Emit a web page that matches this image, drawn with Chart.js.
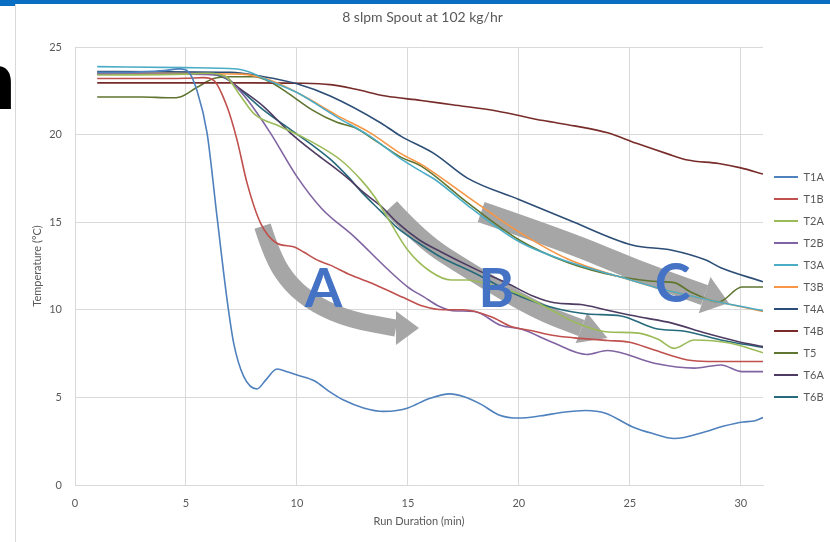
<!DOCTYPE html>
<html><head><meta charset="utf-8">
<script src="https://cdn.jsdelivr.net/npm/chart.js@4.4.1/dist/chart.umd.min.js"></script>
<style>
html,body{margin:0;padding:0;background:#fff;}
#wrap{position:relative;width:830px;height:542px;overflow:hidden;background:#fff;}
canvas{position:absolute;left:0;top:0;}
#topbar{position:absolute;left:0;top:0;width:830px;height:4px;background:#0a6fc2;}
#topbar2{position:absolute;left:0;top:0;width:15px;height:6px;background:#0a6fc2;}
#frame{position:absolute;left:15px;top:4px;width:1px;height:538px;background:#d9d9d9;}
#glyph{position:absolute;left:-33px;top:42px;font:bold 80px "Liberation Sans",Arial,sans-serif;color:#000;line-height:80px;}
</style></head>
<body>
<div id="wrap">
<canvas id="c" width="830" height="542"></canvas>
<div id="topbar"></div><div id="topbar2"></div><div id="frame"></div>
<div id="glyph">n</div>
</div>
<script>
// ---- data ----
const seriesNames = ['T1A','T1B','T2A','T2B','T3A','T3B','T4A','T4B','T5','T6A','T6B'];
const xTickLabels = [0,5,10,15,20,25,30];
const yTickLabels = [0,5,10,15,20,25];

const T1A_x = [1,2,3,4,4.7,5.1,5.5,5.95,6.4,6.85,7.15,7.6,8.2,8.6,9.1,9.6,10,10.8,11.5,12.1,13,13.9,14.5,15,16,16.9,17.5,18.3,19.1,20,21,22,23,23.9,25.1,26,27,28.4,29.2,30.1,30.6,31];
const T1A_y = [23.55,23.55,23.58,23.65,23.75,23.6,22.5,20.1,15.3,10.6,8.1,6.2,5.48,6.0,6.62,6.45,6.28,5.94,5.3,4.85,4.4,4.2,4.25,4.4,4.95,5.2,5.05,4.6,4.0,3.82,3.95,4.15,4.25,4.1,3.33,2.95,2.65,3.04,3.35,3.6,3.65,3.85];

const T1B_x = [1,3,5,5.8,6.25,6.85,7.3,7.76,8.36,9.1,9.85,10.3,10.9,11.5,12.4,13.5,14.8,15.7,16.6,17.5,18.75,19.65,20.6,21.5,22.5,24,25,26.1,27.6,28.5,30,31];
const T1B_y = [23.2,23.2,23.22,23.25,23.1,21.6,19.7,17.2,14.95,13.8,13.6,13.3,12.85,12.55,12.0,11.45,10.7,10.2,10.0,10.0,9.6,9.05,8.8,8.55,8.4,8.25,8.15,7.7,7.13,7.05,7.05,7.05];

const T2A_x = [1,5,6,6.8,7.46,8.06,9.26,10.2,11.07,11.97,12.9,13.5,14.2,15,16,16.95,17.7,18.5,19.3,20.1,21.6,22.5,23.9,25.4,26.3,27,27.9,29.5,31];
const T2A_y = [23.4,23.45,23.5,23.3,22.2,21.2,20.45,19.9,19.3,18.55,17.4,16.45,15.0,13.4,12.2,11.7,11.7,11.5,11.2,10.85,9.9,9.3,8.75,8.67,8.3,7.8,8.28,8.1,7.55];

const T2B_x = [1,5,6.5,7.2,7.76,8.8,10,11.1,12.6,14.1,15,15.7,16.4,17,18,19.2,20.1,21.5,23.05,24,26.1,27.9,29.1,30.05,31];
const T2B_y = [23.45,23.45,23.4,22.8,22.0,20.1,17.6,15.8,14.15,12.3,11.3,10.75,10.2,9.95,9.9,9.1,8.9,8.15,7.45,7.68,6.95,6.67,6.85,6.47,6.47];

const T3A_x = [1,5,7.3,8,8.5,10,11.8,13.3,14.7,15.6,16.2,17.7,20,22.2,24.5,26.7,29,31];
const T3A_y = [23.88,23.82,23.74,23.5,23.2,22.4,21.0,19.9,18.6,17.9,17.45,15.95,13.9,12.75,11.9,11.1,10.45,9.95];

const T3B_x = [1,7.5,8.8,10.3,11.8,13.3,14.7,15.6,16.2,17.7,20,22.2,24.5,26.7,29,31];
const T3B_y = [23.5,23.45,23.1,22.2,21.1,20.1,18.9,18.3,17.8,16.45,14.45,12.9,11.9,11.1,10.45,9.9];

const T4A_x = [1,7,8.5,10,11.5,13.8,14.7,16.2,17.7,20,22.3,25.1,26.9,28.4,29.1,31];
const T4A_y = [23.6,23.55,23.3,22.9,22.2,20.65,19.9,18.9,17.5,16.3,15.1,13.7,13.4,12.85,12.4,11.6];

const T4B_x = [1,5,8,10.3,11.5,12.6,14,15.6,17,19,21.1,22.5,24,25.3,26.7,27.6,29,30,31];
const T4B_y = [22.95,22.95,22.95,22.93,22.85,22.6,22.2,21.95,21.7,21.35,20.8,20.5,20.1,19.5,18.9,18.55,18.35,18.1,17.75];

const T5_x = [1,3,4.3,4.74,5.5,6.25,7,8.05,8.8,9.56,10.7,11.8,12.6,13.6,14.7,15.6,17.7,20,22.2,24.5,26.4,27,27.7,29,30.05,31];
const T5_y = [22.15,22.15,22.1,22.15,22.7,23.2,23.3,23.3,23.0,22.4,21.4,20.7,20.4,19.6,18.7,18.2,16.1,14.0,12.7,11.9,11.6,11.55,11.05,10.45,11.3,11.3];

const T6A_x = [1,6,6.8,7.15,8.5,9.7,10.76,11.5,12.3,13,13.8,14.5,15.5,16.5,18,19.5,20.6,21.6,22.8,23.9,25.4,26.9,28.4,29.9,31];
const T6A_y = [23.5,23.5,23.3,22.9,21.6,20.1,19.0,18.3,17.5,16.7,15.9,15.0,14.0,13.3,12.35,11.5,10.8,10.4,10.3,10.0,9.6,9.24,8.67,8.18,7.9];

const T6B_x = [1,6,6.8,7.5,8.5,9.7,10.8,11.5,12.3,13,13.8,14.5,15.5,16.5,18,19.5,20.1,21.6,23.1,24.6,26.1,27.6,29.1,31];
const T6B_y = [23.45,23.45,23.2,22.5,21.4,20.3,19.3,18.6,17.6,16.6,15.6,14.7,13.8,13.0,12.1,11.1,10.75,10.1,9.76,9.65,8.95,8.75,8.28,7.85];

const seriesX = [T1A_x,T1B_x,T2A_x,T2B_x,T3A_x,T3B_x,T4A_x,T4B_x,T5_x,T6A_x,T6B_x];
const seriesY = [T1A_y,T1B_y,T2A_y,T2B_y,T3A_y,T3B_y,T4A_y,T4B_y,T5_y,T6A_y,T6B_y];

// ---- styles ----
const colors = ['#4F81BD','#C0504D','#9BBB59','#8064A2','#4BACC6','#F79646','#2C4D75','#772C2A','#5F7530','#4D3B62','#276A7C'];
const textColor = '#595959';
const gridColor = '#D9D9D9';
const FONT = 'Lato, "Open Sans", sans-serif';

const datasets = seriesNames.map((name, i) => ({
  label: name,
  data: seriesX[i].map((x, j) => ({x: x, y: seriesY[i][j]})),
  borderColor: colors[i],
  backgroundColor: colors[i],
  borderWidth: 1.6,
  pointRadius: 0,
  fill: false,
  cubicInterpolationMode: 'monotone'
}));

// ---- annotation overlay (arrows & letters, in data units) ----
const overlay = {
  arrowColor: '#A6A6A6',
  letterColor: '#4472C4',
  arrows: [
    {pts: [[8.45,14.78],[8.9,13.0],[9.71,11.42],[10.84,10.27],[12.42,9.42],[14.46,8.96]], tip: [15.5,8.96], w: 17, hw: 34},
    {pts: [[14.23,15.87],[15.59,13.98],[17.71,12.27],[20.69,9.99],[22.82,8.96]], tip: [23.99,8.39], w: 17, hw: 32},
    {pts: [[18.3,15.58],[22.23,13.87],[25.21,12.27],[28.37,10.84]], tip: [29.46,10.39], w: 21, hw: 38}
  ],
  letters: [
    {t: 'A', x: 11.2, y: 11.13},
    {t: 'B', x: 18.98, y: 11.13},
    {t: 'C', x: 26.93, y: 11.42}
  ]
};

const overlayPlugin = {
  id: 'overlay',
  beforeDatasetsDraw(chart) {
    const ctx = chart.ctx, sx = chart.scales.x, sy = chart.scales.y;
    const P = p => [sx.getPixelForValue(p[0]), sy.getPixelForValue(p[1])];
    ctx.save();
    ctx.strokeStyle = overlay.arrowColor;
    ctx.fillStyle = overlay.arrowColor;
    overlay.arrows.forEach(a => {
      const pts = a.pts.map(P);
      ctx.lineWidth = a.w;
      ctx.lineCap = 'butt';
      ctx.lineJoin = 'round';
      ctx.beginPath();
      ctx.moveTo(pts[0][0], pts[0][1]);
      for (let i = 1; i < pts.length - 1; i++) {
        const mx = (pts[i][0] + pts[i+1][0]) / 2, my = (pts[i][1] + pts[i+1][1]) / 2;
        ctx.quadraticCurveTo(pts[i][0], pts[i][1], mx, my);
      }
      const L = pts[pts.length - 1];
      ctx.lineTo(L[0], L[1]);
      ctx.stroke();
      const T = P(a.tip);
      const dx = T[0] - L[0], dy = T[1] - L[1], len = Math.hypot(dx, dy);
      const nx = -dy / len, ny = dx / len, h = a.hw / 2;
      ctx.beginPath();
      ctx.moveTo(L[0] + nx * h, L[1] + ny * h);
      ctx.lineTo(T[0], T[1]);
      ctx.lineTo(L[0] - nx * h, L[1] - ny * h);
      ctx.closePath();
      ctx.fill();
    });
    ctx.restore();
  },
  afterDatasetsDraw(chart) {
    const ctx = chart.ctx, sx = chart.scales.x, sy = chart.scales.y;
    ctx.save();
    ctx.fillStyle = overlay.letterColor;
    ctx.font = 'bold 54px ' + FONT;
    ctx.textAlign = 'center';
    ctx.textBaseline = 'middle';
    overlay.letters.forEach(l => {
      ctx.fillText(l.t, sx.getPixelForValue(l.x), sy.getPixelForValue(l.y));
    });
    ctx.restore();
  }
};

new Chart(document.getElementById('c'), {
  type: 'line',
  data: {datasets},
  plugins: [overlayPlugin],
  options: {
    responsive: false,
    animation: false,
    layout: {padding: {left: 15, right: 0, top: 0, bottom: 0}},
    plugins: {
      title: {
        display: true,
        text: '8 slpm Spout at 102 kg/hr',
        color: textColor,
        font: {family: FONT, size: 14, weight: 'normal'},
        padding: {top: 9, bottom: 21.2}
      },
      legend: {
        position: 'right',
        align: 'center',
        maxWidth: 67,
        title: {display: true, text: '', font: {size: 12}, padding: {top: 0, bottom: 17.6}},
        labels: {
          boxWidth: 24,
          boxHeight: 2,
          padding: 11,
          color: textColor,
          font: {family: FONT, size: 11},
          generateLabels(chart) {
            const items = Chart.defaults.plugins.legend.labels.generateLabels(chart);
            items.forEach(it => { it.fillStyle = it.strokeStyle; it.lineWidth = 0; });
            return items;
          }
        }
      },
      tooltip: {enabled: false}
    },
    scales: {
      x: {
        type: 'linear',
        min: 0, max: 31,
        afterBuildTicks(scale) { scale.ticks = xTickLabels.map(v => ({value: v})); },
        afterFit(scale) { scale.height = 57; },
        grid: {color: gridColor, drawTicks: false},
        border: {color: gridColor},
        ticks: {color: textColor, font: {family: FONT, size: 11}, padding: 12, maxRotation: 0},
        title: {display: true, text: 'Run Duration (min)', color: textColor, font: {family: FONT, size: 11}, padding: {top: 0, bottom: 14}}
      },
      y: {
        min: 0, max: 25,
        afterBuildTicks(scale) { scale.ticks = yTickLabels.map(v => ({value: v})); },
        afterFit(scale) { scale.width = 60; },
        grid: {color: gridColor, drawTicks: false},
        border: {color: gridColor},
        ticks: {color: textColor, font: {family: FONT, size: 11}, padding: 13},
        title: {display: true, text: 'Temperature (°C)', color: textColor, font: {family: FONT, size: 11}, padding: {top: 16, bottom: 0}}
      }
    }
  }
});
</script>
</body></html>
